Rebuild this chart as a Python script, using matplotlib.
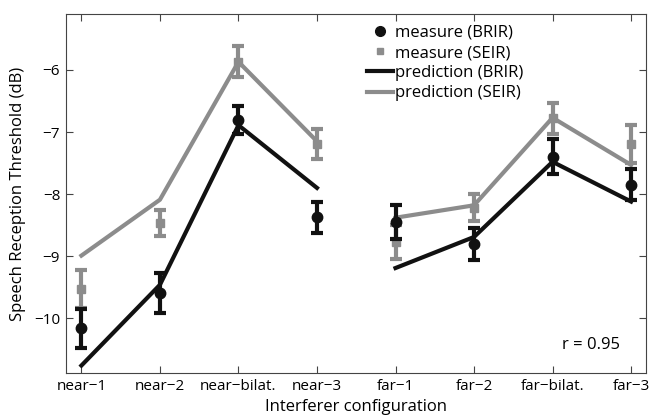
import matplotlib
matplotlib.use("Agg")
import matplotlib.pyplot as plt
import numpy as np
from matplotlib.lines import Line2D

plt.rcParams['font.family'] = ['Open Sans', 'DejaVu Sans']

near_labels = ["near\u22121", "near\u22122", "near\u2212bilat.", "near\u22123"]
far_labels = ["far\u22121", "far\u22122", "far\u2212bilat.", "far\u22123"]
tick_labels = near_labels + far_labels

meas_brir = [-10.16, -9.59, -6.81, -8.37, -8.45, -8.80, -7.40, -7.85]
err_brir = [0.31, 0.32, 0.23, 0.25, 0.28, 0.26, 0.28, 0.25]
meas_seir = [-9.53, -8.47, -5.87, -7.19, -8.77, -8.22, -6.78, -7.19]
err_seir = [0.31, 0.21, 0.25, 0.24, 0.28, 0.22, 0.25, 0.31]
pred_brir = [-10.76, -9.46, -6.89, -7.90, -9.19, -8.69, -7.48, -8.12]
pred_seir = [-8.99, -8.09, -5.87, -7.15, -8.38, -8.18, -6.77, -7.53]

black = "#111111"
gray = "#8c8c8c"

fig = plt.figure(figsize=(6.52, 4.18), dpi=100)
ax = fig.add_axes([65.7/652, 1-373/418, (646-65.7)/652, (373-14)/418])

x = np.arange(1, 9)
xn, xf = x[:4], x[4:]

ax.plot(xn, pred_brir[:4], color=black, lw=3, zorder=2)
ax.plot(xf, pred_brir[4:], color=black, lw=3, zorder=2)
ax.plot(xn, pred_seir[:4], color=gray, lw=3, zorder=2)
ax.plot(xf, pred_seir[4:], color=gray, lw=3, zorder=2)

ax.errorbar(x, meas_seir, yerr=err_seir, fmt='s', color=gray, ms=6,
            elinewidth=3, capsize=4, capthick=3, zorder=3)
ax.errorbar(x, meas_brir, yerr=err_brir, fmt='o', color=black, ms=7.5,
            elinewidth=3, capsize=4, capthick=3, zorder=4)

ax.set_xlim(0.8, 8.19)
ax.set_ylim(-10.88, -5.1)
ax.set_xticks(x)
ax.set_xticklabels(tick_labels)
ax.set_yticks([-10, -9, -8, -7, -6])
ax.set_yticklabels(["\u221210", "\u22129", "\u22128", "\u22127", "\u22126"])
ax.tick_params(direction='in', top=True, right=True, labelsize=11, length=5,
               width=0.8, color='#444444', pad=4)
for s in ax.spines.values():
    s.set_color('#444444')
    s.set_linewidth(0.8)

ax.set_xlabel("Interferer configuration", fontsize=12, labelpad=4)
ax.set_ylabel("Speech Reception Threshold (dB)", fontsize=12, labelpad=6)

handles = [
    Line2D([], [], marker='o', ls='none', color=black, ms=7),
    Line2D([], [], marker='s', ls='none', color=gray, ms=5),
    Line2D([], [], color=black, lw=3),
    Line2D([], [], color=gray, lw=3),
]
labels = ["measure (BRIR)", "measure (SEIR)", "prediction (BRIR)", "prediction (SEIR)"]
ax.legend(handles, labels, loc='upper left', bbox_to_anchor=(0.5, 1.0),
          frameon=False, fontsize=12, handlelength=1.6, handletextpad=0.1,
          labelspacing=0.25, borderaxespad=0.25)

ax.text(0.955, 0.078, "r = 0.95", transform=ax.transAxes, ha='right', va='center',
        fontsize=12)

fig.savefig("out.png", dpi=100)
